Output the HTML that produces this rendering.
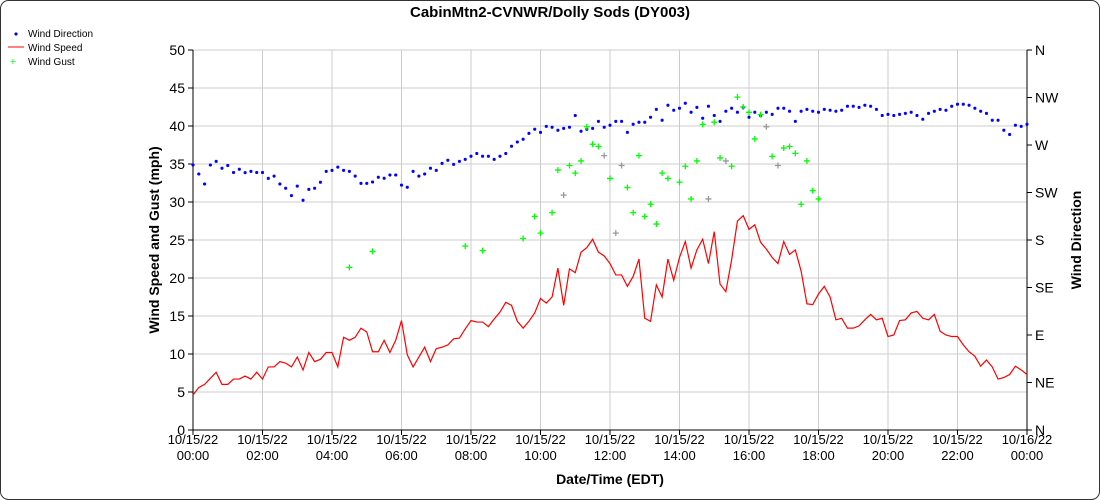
<!DOCTYPE html>
<html><head><meta charset="utf-8"><style>
body{margin:0;background:#fff;}
svg{display:block;font-family:"Liberation Sans",sans-serif;}
</style></head><body>
<svg id="chart" width="1100" height="500" viewBox="0 0 1100 500">
<rect x="0.5" y="0.5" width="1099" height="499" rx="8" fill="#fff" stroke="#333"/>
<text x="550" y="17" text-anchor="middle" font-size="15" font-weight="bold">CabinMtn2-CVNWR/Dolly Sods (DY003)</text>
<g font-size="10">
<g><path d="M14.5,34H17.5M16,32.5V35.5" stroke="#00f" stroke-width="2"/><text x="28" y="37">Wind Direction</text></g>
<g><line x1="8" y1="47" x2="24" y2="47" stroke="#f00"/><text x="28" y="51">Wind Speed</text></g>
<g><text x="10" y="65" fill="#0f0" font-size="10">+</text><text x="28" y="65">Wind Gust</text></g>
</g>
<text transform="translate(159,240) rotate(-90)" text-anchor="middle" font-size="14" font-weight="bold">Wind Speed and Gust (mph)</text>
<text transform="translate(1081,240) rotate(-90)" text-anchor="middle" font-size="14" font-weight="bold">Wind Direction</text>
<text x="610" y="484" text-anchor="middle" font-size="14" font-weight="bold">Date/Time (EDT)</text>
<g id="grid"></g><g id="axes"></g><g id="marks"></g>
</svg>
<script>
const speed=[4.6,5.6,6.0,6.8,7.6,6.0,6.0,6.7,6.7,7.1,6.7,7.6,6.7,8.3,8.3,9.0,8.8,8.3,9.6,7.9,10.2,9.0,9.3,10.2,10.2,8.3,12.2,11.8,12.2,13.4,12.9,10.3,10.3,11.8,10.2,11.8,14.4,9.9,8.3,9.6,10.9,9.0,10.7,10.9,11.2,12.0,12.1,13.3,14.4,14.2,14.2,13.6,14.6,15.5,16.8,16.4,14.3,13.4,14.3,15.4,17.3,16.7,17.5,21.3,16.4,21.2,20.7,23.4,24.0,25.1,23.4,22.9,21.9,20.4,20.4,18.9,20.2,22.5,14.7,14.3,19.1,17.5,22.5,19.7,22.7,24.8,21.3,23.7,25.1,21.9,26.1,19.2,18.2,22.4,27.5,28.2,26.4,27.0,24.7,23.8,22.7,21.9,24.8,23.1,23.7,20.9,16.6,16.5,17.9,18.9,17.5,14.5,14.7,13.4,13.4,13.7,14.5,15.2,14.5,14.7,12.3,12.5,14.4,14.5,15.4,15.6,14.7,14.5,15.2,13.0,12.5,12.3,12.3,11.2,10.3,9.7,8.4,9.2,8.3,6.7,6.9,7.3,8.4,7.9,7.3];
const direction=[251,242.5,233,251,254.5,248,250.6,244,247,243.8,245,244,244,238.4,240.5,233,229,222,231,217.6,228,229,234.7,245,246,249,246,245,240.5,233.7,233.7,235,239.5,238.5,241.6,241.6,232,230,245,240.5,242.5,248,246,252.6,255.5,251.7,254.5,256.4,259.3,262,259.3,259.3,256.4,259.3,262,268.8,272.8,275.4,281,284.9,282,287.7,286.8,284,285.8,286.8,298,283,284.9,285.8,292.4,286.8,288.7,292.4,292.4,282,289.6,291.5,291.5,296.3,303.8,293.4,307.6,302.9,304.8,309.5,301,305.7,295.3,306.7,298,292.4,302,304.8,301,305.7,296.3,301,298,301,299,304.8,304.8,302,292.4,302,303.8,302,301,303.8,302.9,302,302.9,306.7,306.7,305.7,307.6,306.7,303.8,298,299,298,299,300,301,298,294.4,300,302,303.8,302.9,306.7,308.6,308.6,307.6,304.8,302,300,293.4,293.4,284,280,288.7,287.7,289.6];
const gustIdx=[27,31,47,50,57,59,60,62,63,64,65,66,67,68,69,70,71,72,73,74,75,76,77,78,79,80,81,82,84,85,86,87,88,89,90,91,92,93,94,95,96,97,98,99,100,101,102,103,104,105,106,107,108];
const gustVal=[21.4,23.5,24.2,23.6,25.2,28.1,25.9,28.6,34.2,30.9,34.8,33.8,35.4,39.9,37.6,37.3,36.1,33.1,25.9,34.8,31.9,28.6,36.1,28.1,29.7,27.1,33.8,33.1,32.6,34.7,30.4,35.4,40.2,30.4,40.5,35.8,35.4,34.7,43.8,42.5,41.8,38.3,41.5,39.9,36.0,34.8,37.1,37.3,36.4,29.7,35.4,31.5,30.4];
const gustGray=[64,71,73,74,89,92,99,101];
const yTicks=[0,5,10,15,20,25,30,35,40,45,50];
const dirTicks=["N","NE","E","SE","S","SW","W","NW","N"];
const xTickHours=[0,2,4,6,8,10,12,14,16,18,20,22,24];
const X0=193,X1=1027,Y0=430,Y1=50;
const xs=i=>X0+(X1-X0)*i/144;
const ys=v=>Y0-(Y0-Y1)*v/50;
const yd=d=>Y0-(Y0-Y1)*d/360;
const NS="http://www.w3.org/2000/svg";
function mk(p,t,a){const e=document.createElementNS(NS,t);for(const k in a)e.setAttribute(k,a[k]);p.appendChild(e);return e;}
const grid=document.getElementById('grid'),axes=document.getElementById('axes'),marks=document.getElementById('marks');
yTicks.forEach(v=>{
 const l=mk(grid,'line',{x1:X0,x2:X1,y1:ys(v),y2:ys(v),stroke:'#ccc'});
 
 
 const tk=mk(axes,'line',{x1:X0-5,x2:X0,y1:ys(v),y2:ys(v),stroke:'#000'});
 
 
 const t=mk(axes,'text',{x:X0-8,y:ys(v)+5,'text-anchor':'end','font-size':14});
 t.textContent=v;
 
 
});
xTickHours.forEach(h=>{
 const x=xs(h*6);
 const l=mk(grid,'line',{x1:x,x2:x,y1:Y1,y2:Y0,stroke:'#ccc'});
 
 
 const tk=mk(axes,'line',{x1:x,x2:x,y1:Y0,y2:Y0+5,stroke:'#000'});
 
 
 const t=mk(axes,'text',{x:x,y:444,'text-anchor':'middle','font-size':13});
 
 
 const a=mk(t,'tspan',{x:x,dy:0});a.textContent=h==24?'10/16/22':'10/15/22';
 const b=mk(t,'tspan',{x:x,dy:16});b.textContent=(h%24<10?'0':'')+(h%24)+':00';
});
dirTicks.forEach((d,i)=>{
 const y=yd(i*45);
 const tk=mk(axes,'line',{x1:X1,x2:X1+5,y1:y,y2:y,stroke:'#000'});
 
 
 const t=mk(axes,'text',{x:X1+8,y:y+5,'font-size':14});
 t.textContent=d;
 
 
});
const ax=mk(axes,'path',{d:`M${X0},${Y1}V${Y0}H${X1}V${Y1}`,fill:'none',stroke:'#000'});


const line=mk(marks,'polyline',{points:speed.map((v,i)=>xs(i)+','+ys(v)).join(' '),fill:'none',stroke:'#f00','stroke-width':1.2});


direction.forEach((d,i)=>{
 const x=xs(i),y=yd(d);
 const p=mk(marks,'path',{d:`M${x-1.5},${y}H${x+1.5}M${x},${y-1.5}V${y+1.5}`,stroke:'#00f','stroke-width':2});
 
 
});
gustIdx.forEach((gi,k)=>{
 const x=xs(gi),y=ys(gustVal[k]);
 const c=gustGray.includes(gi)?'#999':'#0f0';
 const p=mk(marks,'path',{d:`M${x-3},${y}H${x+3}M${x},${y-3}V${y+3}`,stroke:c,'stroke-width':1.3});
 
 
});
</script>
</body></html>
